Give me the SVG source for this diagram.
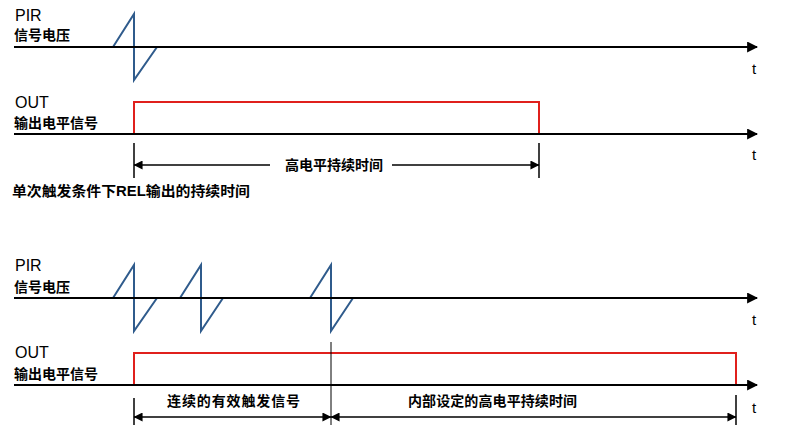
<svg xmlns="http://www.w3.org/2000/svg" width="806" height="425" viewBox="0 0 806 425">
<style>
.axis{stroke:#000;stroke-width:2;fill:none}
.pir{stroke:#2f5b8c;stroke-width:2;fill:none;stroke-linejoin:miter}
.out{stroke:#e0201c;stroke-width:2;fill:none}
.tick{stroke:#000;stroke-width:1.5;fill:none}
.dim{stroke:#000;stroke-width:1.5;fill:none}
.lat{font-family:"Liberation Sans",Arial,sans-serif;font-size:16px;fill:#000}
.tt{font-family:"Liberation Sans",Arial,sans-serif;font-size:15px;fill:#000}
.cjk{font-family:"Liberation Sans","Noto Sans CJK SC",sans-serif;font-size:14px;font-weight:bold;fill:#000}
</style>
<defs>
<marker id="ax" viewBox="0 0 10 10" refX="9" refY="5" markerWidth="11" markerHeight="11" markerUnits="userSpaceOnUse" orient="auto"><path d="M0,0 L10,5 L0,10 z" fill="#000"/></marker>
<marker id="da" viewBox="0 0 10 10" refX="9.5" refY="5" markerWidth="11" markerHeight="9" markerUnits="userSpaceOnUse" orient="auto-start-reverse"><path d="M0,0 L10,5 L0,10 z" fill="#000"/></marker>
</defs>

<g id="top-pir">
<text class="lat" x="15" y="21">PIR</text>
<text class="cjk" x="14" y="40">信号电压</text>
</g>
<g id="top-out">
<text class="lat" x="15" y="108">OUT</text>
<text class="cjk" x="14" y="128">输出电平信号</text>
</g>
<g id="top-pulse">
<polyline class="pir" points="113,47 134,14 134,80 157,47"/>
</g>
<g id="top-level">
<polyline class="out" points="134,134 134,102 539,102 539,134"/>
</g>
<g id="bottom-pir">
<text class="lat" x="15" y="271">PIR</text>
<text class="cjk" x="14" y="292">信号电压</text>
</g>
<g id="bottom-out">
<text class="lat" x="15" y="358">OUT</text>
<text class="cjk" x="14" y="379">输出电平信号</text>
</g>
<g id="bottom-pulses">
<polyline class="pir" points="113,298 134,265 134,331 157,298"/>
<polyline class="pir" points="180,298 201,265 201,331 223,298"/>
<polyline class="pir" points="310,298 331,265 331,331 353,298"/>
</g>
<g id="bottom-level">
<polyline class="out" points="134,385 134,353 736,353 736,385"/>
</g>
<g id="labels">
<text class="tt" x="752" y="74">t</text>
<text class="tt" x="752" y="160">t</text>
<text class="tt" x="752" y="325">t</text>
<text class="tt" x="752" y="413">t</text>
<text class="cjk" x="285" y="170" font-size="13">高电平持续时间</text>
<text class="cjk" x="12" y="196" textLength="238" lengthAdjust="spacingAndGlyphs">单次触发条件下REL输出的持续时间</text>
<text class="cjk" x="167" y="406" textLength="133">连续的有效触发信号</text>
<text class="cjk" x="408" y="406" textLength="169">内部设定的高电平持续时间</text>
</g>
<g id="connectors">
<line class="axis" x1="14" y1="47" x2="757" y2="47" marker-end="url(#ax)"/>
<line class="axis" x1="14" y1="134" x2="757" y2="134" marker-end="url(#ax)"/>
<line class="axis" x1="14" y1="298" x2="757" y2="298" marker-end="url(#ax)"/>
<line class="axis" x1="14" y1="385" x2="757" y2="385" marker-end="url(#ax)"/>
<line class="tick" x1="134" y1="143" x2="134" y2="178"/>
<line class="tick" x1="539" y1="143" x2="539" y2="178"/>
<line class="dim" x1="134" y1="165" x2="270" y2="165" marker-start="url(#da)"/>
<line class="dim" x1="392" y1="165" x2="539" y2="165" marker-end="url(#da)"/>
<line class="tick" x1="134" y1="398" x2="134" y2="425"/>
<line class="tick" x1="736" y1="395" x2="736" y2="425"/>
<line stroke="#000" stroke-width="1" x1="331" y1="342" x2="331" y2="425"/>
<line class="dim" x1="134" y1="417" x2="331" y2="417" marker-start="url(#da)" marker-end="url(#da)"/>
<line class="dim" x1="331" y1="417" x2="736" y2="417" marker-start="url(#da)" marker-end="url(#da)"/>
</g>
</svg>
